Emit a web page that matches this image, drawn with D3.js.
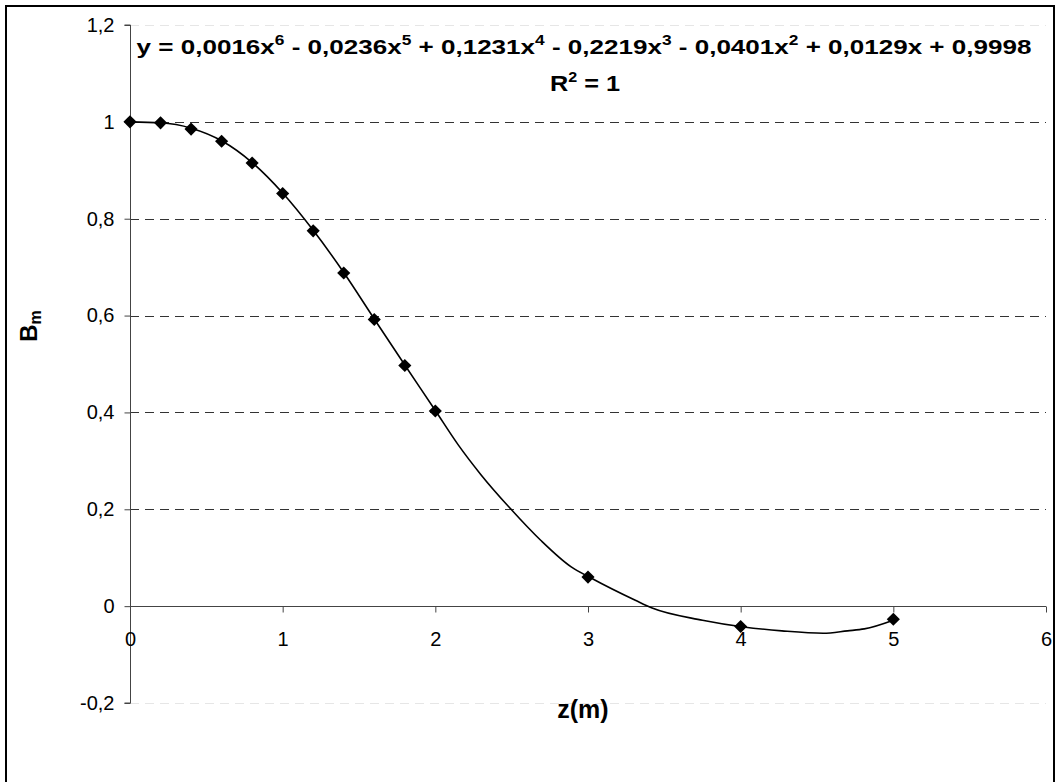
<!DOCTYPE html>
<html>
<head>
<meta charset="utf-8">
<script src="https://cdn.jsdelivr.net/npm/d3@7"></script>
<style>
  body { margin: 0; background: #fff; }
  text { font-family: "Liberation Sans", Arial, sans-serif; }
</style>
</head>
<body>
<svg id="chart" width="1057" height="782"></svg>
<script>
// measured points
var zValues = [0, 0.2, 0.4, 0.6, 0.8, 1, 1.2, 1.4, 1.6, 1.8, 2, 3, 4, 5];
var bValues = [1, 0.998, 0.985, 0.96, 0.915, 0.852, 0.775, 0.688, 0.592, 0.497, 0.403, 0.06, -0.042, -0.027];

// trendline
var trendZ = [0, 0.2, 0.4, 0.6, 0.8, 1, 1.2, 1.4, 1.6, 1.8, 2, 2.15, 2.3, 2.49, 2.69, 2.89, 3.02, 3.31, 3.42, 3.75, 4.02, 4.27, 4.54, 4.7, 4.81, 5];
var trendB = [1, 0.998, 0.987, 0.961, 0.916, 0.853, 0.776, 0.689, 0.593, 0.498, 0.404, 0.333, 0.271, 0.202, 0.136, 0.081, 0.058, 0.012, -0.004, -0.029, -0.043, -0.051, -0.056, -0.051, -0.047, -0.029];

var xTicks = [0, 1, 2, 3, 4, 5, 6];
var yTicks = [-0.2, 0, 0.2, 0.4, 0.6, 0.8, 1, 1.2];

var equationText = ["y = 0,0016x", "6", " - 0,0236x", "5", " + 0,1231x", "4", " - 0,2219x", "3", " - 0,0401x", "2", " + 0,0129x + 0,9998"];

var svg = d3.select("#chart");

// outer chart frame
svg.append("rect")
    .attr("x", 6).attr("y", 6)
    .attr("width", 1048).attr("height", 800)
    .attr("fill", "#fff")
    .attr("stroke", "#000")
    .attr("stroke-width", 2);

var x = d3.scaleLinear().domain([0, 6]).range([130, 1046]);
var y = d3.scaleLinear().domain([-0.2, 1.2]).range([703, 25]);

function fmt(d) { return String(+d.toFixed(1)).replace(".", ","); }

// horizontal gridlines
svg.append("g").selectAll("line")
    .data(yTicks.filter(function(d){ return d !== 0; }))
    .enter()
    .append("line")
    .attr("x1", 130).attr("x2", 1046)
    .attr("y1", function(d){ return Math.round(y(d)) + 0.5; })
    .attr("y2", function(d){ return Math.round(y(d)) + 0.5; })
    .attr("stroke", function(d){ return (d === 1.2 || d === -0.2) ? "#e6e6e6" : "#333"; })
    .attr("stroke-width", 1)
    .attr("stroke-dasharray", "9,6");

// y axis
var yAxis = d3.axisLeft(y).tickValues(yTicks).tickSize(6).tickPadding(10).tickFormat(fmt);
var gy = svg.append("g")
    .attr("transform", "translate(130.5,0)")
    .call(yAxis);
gy.select(".domain").attr("stroke", "#444").attr("d", "M-6," + y(1.2) + "H0V" + y(-0.2) + "H-6");
gy.selectAll(".tick line").attr("stroke", "#444");
gy.selectAll("text").attr("font-size", 20).attr("fill", "#000")
    .attr("font-family", "Liberation Sans, Arial, sans-serif");

// x axis sits at y = 0
var xAxis = d3.axisBottom(x).tickValues(xTicks).tickSize(6).tickPadding(19).tickFormat(fmt);
var gx = svg.append("g")
    .attr("transform", "translate(0," + (Math.round(y(0)) + 0.5) + ")")
    .call(xAxis);
gx.select(".domain").attr("stroke", "#444").attr("d", "M" + x(0) + ",0H" + x(6));
gx.selectAll(".tick line").attr("stroke", "#444");
gx.selectAll("text").attr("font-size", 20).attr("fill", "#000")
    .attr("font-family", "Liberation Sans, Arial, sans-serif");

// trendline
var trend = trendZ.map(function(d, i){ return [d, trendB[i]]; });
var line = d3.line()
    .x(function(d){ return x(d[0]); })
    .y(function(d){ return y(d[1]); })
    .curve(d3.curveMonotoneX);
svg.append("path")
    .datum(trend)
    .attr("d", line)
    .attr("fill", "none")
    .attr("stroke", "#000")
    .attr("stroke-width", 1.6);

// diamond markers
var diamond = d3.symbol().type(d3.symbolDiamond2).size(110);
svg.append("g").selectAll("path")
    .data(zValues)
    .enter()
    .append("path")
    .attr("d", diamond)
    .attr("transform", function(d, i){ return "translate(" + x(d) + "," + y(bValues[i]) + ")"; })
    .attr("fill", "#000");

// trendline equation (the original text is a bit wide, hence the x stretch)
var eq = svg.append("g")
    .attr("transform", "translate(584,54) scale(1.24,1)")
    .append("text")
    .attr("text-anchor", "middle")
    .attr("font-size", 21)
    .attr("font-weight", "bold");
equationText.forEach(function(t, i){
    var sp = eq.append("tspan").text(t);
    if (i % 2 === 1) {
        sp.attr("font-size", 14).attr("dy", -9);
    } else if (i > 0) {
        sp.attr("dy", 9);
    }
});

var r2 = svg.append("g")
    .attr("transform", "translate(585,91) scale(1.15,1)")
    .append("text")
    .attr("text-anchor", "middle")
    .attr("font-size", 22)
    .attr("font-weight", "bold");
r2.append("tspan").text("R");
r2.append("tspan").text("2").attr("font-size", 14).attr("dy", -9);
r2.append("tspan").text(" = 1").attr("dy", 9);

// axis titles
svg.append("text")
    .attr("x", 583).attr("y", 718)
    .attr("text-anchor", "middle")
    .attr("font-size", 25)
    .attr("font-weight", "bold")
    .text("z(m)");

var yt = svg.append("text")
    .attr("transform", "translate(37,326) rotate(-90)")
    .attr("text-anchor", "middle")
    .attr("font-size", 24)
    .attr("font-weight", "bold");
yt.append("tspan").text("B");
yt.append("tspan").text("m").attr("font-size", 16).attr("dy", 4);
</script>
</body>
</html>
